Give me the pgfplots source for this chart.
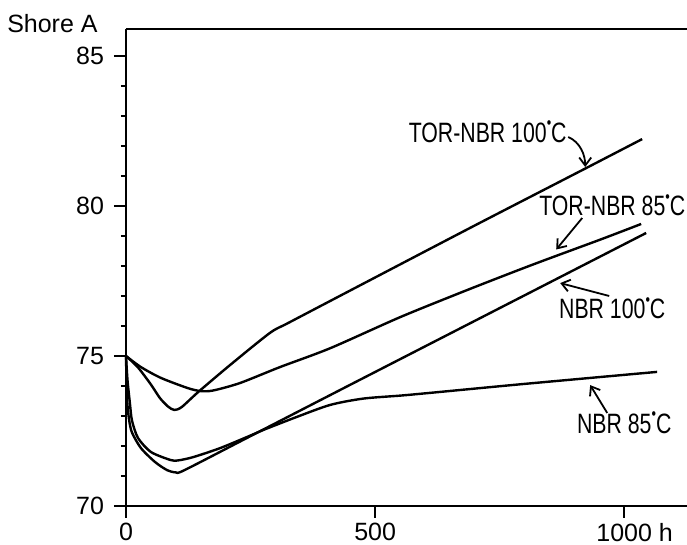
\documentclass[border=0pt]{standalone}
\usepackage{fontspec}
\setmainfont{Liberation Sans}
\usepackage{pgfplots}
\pgfplotsset{compat=1.18}
\usetikzlibrary{arrows.meta}
\newcommand{\dg}{\raisebox{0.48em}{\scalebox{0.6}{\textbullet}}}
\newcommand{\lab}[1]{\scalebox{0.76}[1]{\fontsize{14}{16}\selectfont #1}}
\begin{document}
\begin{tikzpicture}
\begin{axis}[name=ax, scale only axis, width=280.5pt, height=238.5pt,
  xmin=0, xmax=1126, ymin=70, ymax=85.9,
  axis x line*=bottom, axis y line*=left,
  axis line style={line width=1.3pt},
  xtick={0,500,1000}, xticklabels={0,500,{1000\rlap{\ h}}},
  ytick={70,75,80,85}, minor y tick num=4,
  tick align=outside, major tick length=6pt, minor tick length=2.5pt,
  every tick/.style={black, line width=1pt},
  tick label style={font=\fontsize{12.5}{14}\selectfont},
  yticklabel style={xshift=-1.5pt},
  xticklabel style={yshift=1pt},
  /pgf/number format/assume math mode=true,
  clip=false,
  every axis plot/.append style={line width=1.2pt, smooth, tension=0.45, no markers},
  every axis plot post/.append style={black}]

% TOR-NBR 100 C
\addplot coordinates {(0,75) (24,74.62) (50,74.05) (68,73.6) (84,73.32) (97,73.2) (112,73.3) (145,73.8) (209,74.7) (289,75.77) (329,76.13) (490,77.53) (700,79.35) (922,81.25) (1036,82.23)};
% TOR-NBR 85 C
\addplot coordinates {(0,75) (30,74.63) (70,74.27) (124,73.93) (150,73.83) (175,73.85) (229,74.1) (309,74.63) (410,75.26) (551,76.3) (685,77.2) (817,78.05) (952,78.88) (1034,79.4)};
% NBR 100 C
\addplot coordinates {(0,75) (2,73.6) (6,72.9) (12,72.45) (30,71.93) (58,71.47) (82,71.2) (100,71.12) (118,71.2) (250,72.33) (450,74.04) (700,76.17) (1044,79.1)};
% NBR 85 C
\addplot coordinates {(0,75) (3,74.2) (8,73.4) (12,72.85) (24,72.27) (50,71.8) (90,71.53) (105,71.52) (135,71.63) (189,71.93) (250,72.35) (275,72.53) (343,72.97) (410,73.37) (476,73.58) (551,73.68) (610,73.77) (800,74.07) (1066,74.47)};

\draw[line width=1.3pt] (rel axis cs:0,1) -- (rel axis cs:1,1);

\node[anchor=east, inner sep=0, font=\fontsize{12.5}{14}\selectfont] at ([xshift=-14pt, yshift=2.75pt]rel axis cs:0,1) {Shore A};

\node[inner sep=0] at (axis cs:726,82.47) {\lab{TOR-NBR 100\dg C}};
\node[inner sep=0] at (axis cs:976,80.03) {\lab{TOR-NBR 85\dg C}};
\node[inner sep=0] at (axis cs:976,76.6) {\lab{NBR 100\dg C}};
\node[inner sep=0] at (axis cs:1000,72.77) {\lab{NBR 85\dg C}};

\begin{scope}[line width=0.9pt, -{Straight Barb[length=4pt,width=6pt]}]
\draw (axis cs:887.6,82.3) .. controls (axis cs:911.6,82.13) and (axis cs:921.7,81.7) .. (axis cs:921.7,81.3);
\draw (axis cs:915.7,79.6) -- (axis cs:863.5,78.55);
\draw (axis cs:969.9,77.0) -- (axis cs:871.5,77.43);
\draw (axis cs:965.9,73.1) -- (axis cs:931.7,74.03);
\end{scope}
\end{axis}
\pgfresetboundingbox
\path[use as bounding box] ([xshift=-63pt,yshift=-19.5pt]ax.south west) rectangle ([yshift=14.5pt]ax.north east);
\end{tikzpicture}
\end{document}
